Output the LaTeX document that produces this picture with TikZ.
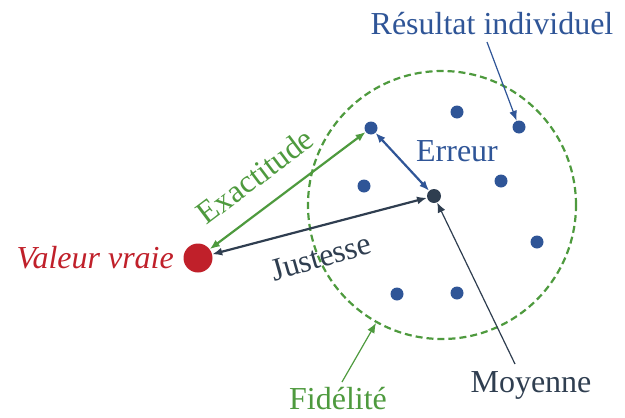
\documentclass[tikz,border=0pt]{standalone}
\usepackage{fontspec}
\setmainfont{Liberation Serif}
\usetikzlibrary{arrows.meta}
\definecolor{cgreen}{HTML}{4E9A3E}
\definecolor{cblue}{HTML}{2F5597}
\definecolor{cdark}{HTML}{2F3E50}
\definecolor{cred}{HTML}{C0202A}
\begin{document}
\begin{tikzpicture}[x=1pt,y=-1pt,
  lbl/.style={font=\fontsize{32}{35}\selectfont, inner sep=0pt},
  bdot/.style={circle, fill=cblue, minimum size=13pt, inner sep=0pt},
  tip/.style={-{Latex[length=10pt,width=8pt]}},
  dtip/.style={{Latex[length=10pt,width=8pt]}-{Latex[length=10pt,width=8pt]}}]
\useasboundingbox (0,0) rectangle (625,418);
\node[circle, draw=cgreen, line width=2.2pt, dash pattern=on 7pt off 4pt, minimum size=268pt, inner sep=0pt] (circ) at (442,205) {};
\node[circle, fill=cred, minimum size=29pt, inner sep=0pt] (true) at (198,258) {};
\node[bdot] (p1) at (371,128) {};
\node[bdot] (p2) at (457,112) {};
\node[bdot] (p3) at (519,127) {};
\node[bdot] (p4) at (364,186) {};
\node[bdot] (p5) at (501,181) {};
\node[bdot] (p6) at (537,242) {};
\node[bdot] (p7) at (397,294) {};
\node[bdot] (p8) at (457,293) {};
\node[circle, fill=cdark, minimum size=14pt, inner sep=0pt] (mean) at (434,196) {};
\node[lbl, text=cred, font=\fontsize{32}{35}\selectfont\itshape, anchor=east] (vv) at (174,258) {Valeur vraie};
\node[lbl, text=cblue] (res) at (492,24) {Résultat individuel};
\node[lbl, text=cblue] (err) at (457,151) {Erreur};
\node[lbl, text=cgreen, rotate=37] (exa) at (255,176) {Exactitude};
\node[lbl, text=cdark, rotate=16] (jus) at (321,257) {Justesse};
\node[lbl, text=cdark] (moy) at (531,385) {Moyenne};
\node[lbl, text=cgreen] (fid) at (338,399) {Fidélité};
\coordinate (resS) at (487,42);
\coordinate (moyS) at (515,364);
\coordinate (fidS) at (342,382);
\coordinate (fidE) at (376,323);
\draw[dtip, cgreen, line width=2.2pt] (true) -- (p1);
\draw[dtip, cdark, line width=2.2pt] (true) -- (mean);
\draw[dtip, cblue, line width=2.2pt] (p1) -- (mean);
\draw[tip, cblue, line width=1.2pt] (resS) -- (p3);
\draw[tip, cdark, line width=1.2pt] (moyS) -- (mean);
\draw[tip, cgreen, line width=1.2pt] (fidS) -- (fidE);
\end{tikzpicture}
\end{document}
